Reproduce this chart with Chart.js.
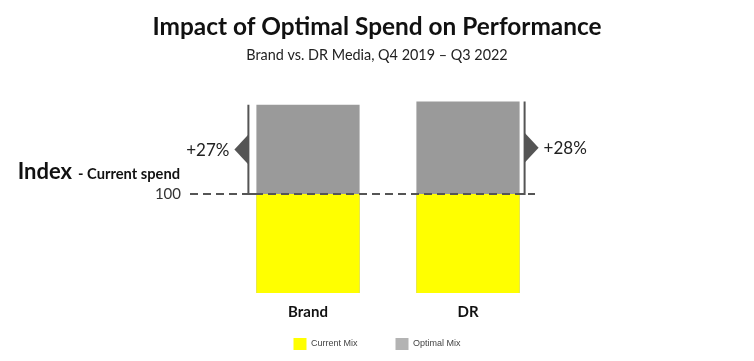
<!DOCTYPE html>
<html><head><meta charset="utf-8">
<script src="https://cdn.jsdelivr.net/npm/chart.js@4.4.1/dist/chart.umd.min.js"></script>
<style>html,body{margin:0;padding:0;background:#fff}</style>
</head><body>
<canvas id="c" width="754" height="361"></canvas>
<script>
const categories = ['Brand', 'DR'];
const currentMix = [100, 100];
const optimalMix = [127, 128];
const upliftLabels = ['+27%', '+28%'];
const yTicks = [100];
const seriesNames = ['Current Mix', 'Optimal Mix'];
const titleText = 'Impact of Optimal Spend on Performance';
const subtitleText = 'Brand vs. DR Media, Q4 2019 \u2013 Q3 2022';
const axisTitleMain = 'Index';
const axisTitleSub = '- Current spend';

const FONT = 'Lato';

const annot = {
  id: 'annot',
  afterLayout(chart) {
    // let the category labels extend below the (thin) x-axis box without being clipped
    chart.scales.x.bottom = chart.height;
  },
  afterDatasetsDraw(chart) {
    const ctx = chart.ctx, ys = chart.scales.y, area = chart.chartArea;
    const meta = chart.getDatasetMeta(1);
    const y100 = ys.getPixelForValue(yTicks[0]);
    ctx.save();
    ctx.strokeStyle = '#555';
    ctx.fillStyle = '#555';
    ctx.lineWidth = 2;
    meta.data.forEach((bar, i) => {
      const left = bar.x - bar.width / 2, right = bar.x + bar.width / 2;
      const side = i === 0 ? -1 : 1;
      const lx = i === 0 ? left - 8 : right + 5;
      const top = bar.y;
      ctx.beginPath();
      ctx.moveTo(lx, top);
      ctx.lineTo(lx, y100);
      ctx.lineTo(i === 0 ? left : right, y100);
      ctx.stroke();
      const midY = (top + y100) / 2;
      ctx.beginPath();
      ctx.moveTo(lx, midY - 15);
      ctx.lineTo(lx + side * 14, midY);
      ctx.lineTo(lx, midY + 15);
      ctx.closePath();
      ctx.fill();
      ctx.fillStyle = '#222';
      ctx.font = '17px ' + FONT;
      ctx.textBaseline = 'middle';
      ctx.textAlign = i === 0 ? 'right' : 'left';
      ctx.fillText(upliftLabels[i], lx + side * 19, midY + 1);
      ctx.fillStyle = '#555';
    });
    ctx.setLineDash([8, 5]);
    ctx.beginPath();
    ctx.moveTo(area.left - 38, y100);
    ctx.lineTo(area.right - 13, y100);
    ctx.stroke();
    ctx.setLineDash([]);
    // axis title
    ctx.fillStyle = '#111';
    ctx.textBaseline = 'alphabetic';
    ctx.textAlign = 'left';
    ctx.font = 'bold 14.7px ' + FONT;
    const w2 = ctx.measureText(axisTitleSub).width;
    ctx.font = 'bold 22px ' + FONT;
    const w1 = ctx.measureText(axisTitleMain).width;
    const xEnd = area.left - 48;
    const yb = y100 - 15;
    ctx.fillText(axisTitleMain, xEnd - w2 - 6 - w1, yb);
    ctx.font = 'bold 14.7px ' + FONT;
    ctx.fillText(axisTitleSub, xEnd - w2, yb);
    ctx.restore();
  }
};

new Chart(document.getElementById('c'), {
  type: 'bar',
  data: {
    labels: categories,
    datasets: [
      { label: seriesNames[0], data: currentMix, backgroundColor: '#ffff00', grouped: false,
        barPercentage: 0.645, categoryPercentage: 1 },
      { label: seriesNames[1], data: optimalMix, backgroundColor: '#9a9a9a', grouped: false,
        barPercentage: 0.645, categoryPercentage: 1 }
    ]
  },
  options: {
    responsive: false,
    animation: false,
    devicePixelRatio: 1,
    layout: { padding: { left: 0, right: 0, top: 0, bottom: 1 } },
    scales: {
      x: {
        grid: { display: false, drawTicks: false },
        border: { display: false },
        ticks: { font: { family: FONT, size: 15, weight: 'bold' }, color: '#111', padding: 10 },
        afterFit(s) { s.height = 7; }
      },
      y: {
        min: 70, max: 130,
        grid: { display: false, drawTicks: false },
        border: { display: false },
        ticks: { font: { family: FONT, size: 15 }, color: '#333', padding: 47 },
        afterBuildTicks(s) { s.ticks = yTicks.map(v => ({ value: v })); },
        afterFit(s) { s.width = 228; }
      },
      yR: {
        type: 'linear', position: 'right', display: true,
        grid: { display: false, drawTicks: false },
        border: { display: false },
        ticks: { display: false },
        afterFit(s) { s.width = 206; }
      }
    },
    plugins: {
      tooltip: { enabled: false },
      title: {
        display: true, text: titleText, color: '#111',
        font: { family: FONT, size: 24.4, weight: 'bold' },
        padding: { top: 12.4, bottom: 4.7 }
      },
      subtitle: {
        display: true, text: subtitleText, color: '#222',
        font: { family: FONT, size: 14.4 },
        padding: { top: 0, bottom: 31.3 }
      },
      legend: {
        position: 'bottom',
        labels: {
          boxWidth: 13, boxHeight: 12, padding: 38, color: '#444',
          font: { family: 'Liberation Sans', size: 9 },
          generateLabels(chart) {
            const items = Chart.defaults.plugins.legend.labels.generateLabels(chart);
            items.forEach(it => { it.lineWidth = 0; if (it.datasetIndex === 1) it.fillStyle = '#b3b3b3'; });
            return items;
          }
        }
      }
    }
  },
  plugins: [annot]
});
</script>
</body></html>
